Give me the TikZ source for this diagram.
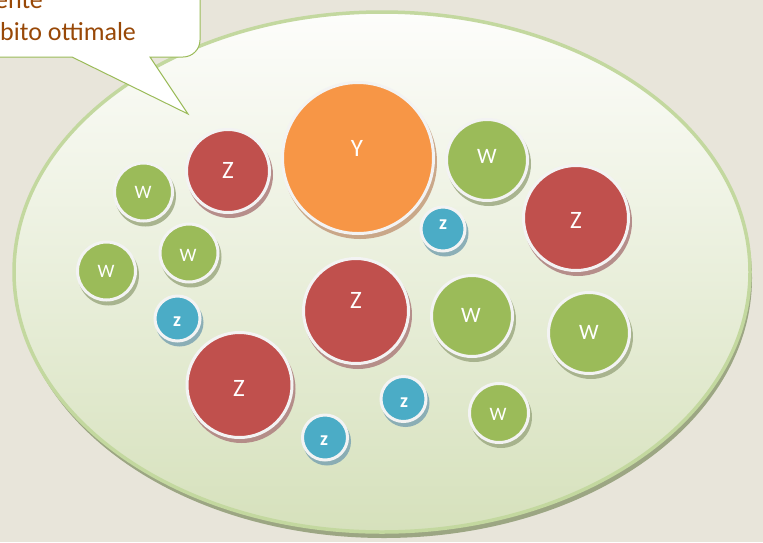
\documentclass[tikz,border=0pt]{standalone}
\usepackage{fontspec}
\setmainfont{Carlito}
\definecolor{paper}{HTML}{E8E5DA}
\definecolor{rim}{HTML}{C3D89F}
\definecolor{rimshadow}{HTML}{9CA683}
\definecolor{poolTop}{HTML}{FDFDFB}
\definecolor{poolBottom}{HTML}{D6E1BC}
\definecolor{cOrange}{HTML}{F79646}
\definecolor{cRed}{HTML}{C0504D}
\definecolor{cGreen}{HTML}{9BBB59}
\definecolor{cBlue}{HTML}{4BACC6}
\definecolor{ringgray}{HTML}{F3F3F3}
\definecolor{shadowgray}{HTML}{A6A6A6}
\definecolor{calloutText}{HTML}{984807}
\definecolor{calloutLine}{HTML}{9BBB59}

% #1 name, #2 x, #3 y, #4 outer radius, #5 colour, #6 label x, #7 label y, #8 font, #9 label
\newcommand\drawbubble[9]{%
  \fill[#5!40!shadowgray, opacity=0.9] (#2+2,#3+4) circle[radius=#4];
  \node[bubble, fill=#5, minimum size={2*(#4-1.5)*1pt}] (#1) at (#2,#3) {};
  \node[bubblelabel, font=#8] (#1-l) at (#6,#7) {#9};
}

\begin{document}
\begin{tikzpicture}[x=1pt,y=-1pt,
  bubble/.style={circle, draw=ringgray, line width=3pt, inner sep=0pt, outer sep=0pt},
  bubblelabel/.style={text=white, inner sep=0pt, anchor=center},
  callouttext/.style={text=calloutText, font=\fontsize{26}{31}\selectfont, anchor=base west, inner sep=0pt},
]
\def\fZ{\fontsize{25}{25}\selectfont}
\def\fWb{\fontsize{22}{22}\selectfont}
\def\fWs{\fontsize{19}{19}\selectfont}
\def\fz{\fontsize{20}{20}\selectfont\bfseries}

\useasboundingbox (0,0) rectangle (763,542);
\clip (0,0) rectangle (763,542);
\fill[paper] (0,0) rectangle (763,542);

% the pool
\fill[rimshadow] (384,278) ellipse[x radius=368, y radius=260];
\shade[top color=poolTop, bottom color=poolBottom, draw=rim, line width=3.5pt]
  (382,272) ellipse[x radius=368, y radius=260];

% bubbles
\drawbubble{y1}{358}{158}{77}{cOrange}{357}{148}{\fZ}{Y}
\drawbubble{z1}{228}{171}{43}{cRed}{228}{170}{\fZ}{Z}
\drawbubble{w1}{487}{160}{42}{cGreen}{487}{156}{\fWb}{W}
\drawbubble{z2}{576}{218}{54}{cRed}{576}{220}{\fZ}{Z}
\drawbubble{s1}{443}{229}{23.5}{cBlue}{443}{225}{\fz}{z}
\drawbubble{w2}{143.5}{192}{30.5}{cGreen}{143}{192}{\fWs}{W}
\drawbubble{w3}{189}{253}{30.5}{cGreen}{188}{255}{\fWs}{W}
\drawbubble{w4}{106.5}{271}{30.5}{cGreen}{106}{271}{\fWs}{W}
\drawbubble{s2}{177.5}{318.5}{24}{cBlue}{177}{322}{\fz}{z}
\drawbubble{z3}{356}{311}{54}{cRed}{356}{300}{\fZ}{Z}
\drawbubble{w5}{472}{316}{42}{cGreen}{471}{315}{\fWb}{W}
\drawbubble{w6}{589}{333}{42}{cGreen}{589}{332}{\fWb}{W}
\drawbubble{z4}{239.5}{385}{54}{cRed}{239}{388}{\fZ}{Z}
\drawbubble{s3}{403.5}{399}{24}{cBlue}{404}{403}{\fz}{z}
\drawbubble{w7}{499}{413}{31}{cGreen}{498}{414}{\fWs}{W}
\drawbubble{s4}{325}{437.5}{24}{cBlue}{324}{441}{\fz}{z}

% speech callout with its pointer
\filldraw[fill=white, draw=calloutLine, line width=1pt]
  (-60,-60) -- (200,-60) -- (200,40) arc[start angle=0, end angle=90, radius=17]
  -- (150,57) -- (188,114) -- (72,57) -- (-60,57) -- cycle;
\node[callouttext] (t1) at (-5,8.5) {ente};
\node[callouttext] (t2) at (0,40.5) {bito ottimale};
\end{tikzpicture}
\end{document}
